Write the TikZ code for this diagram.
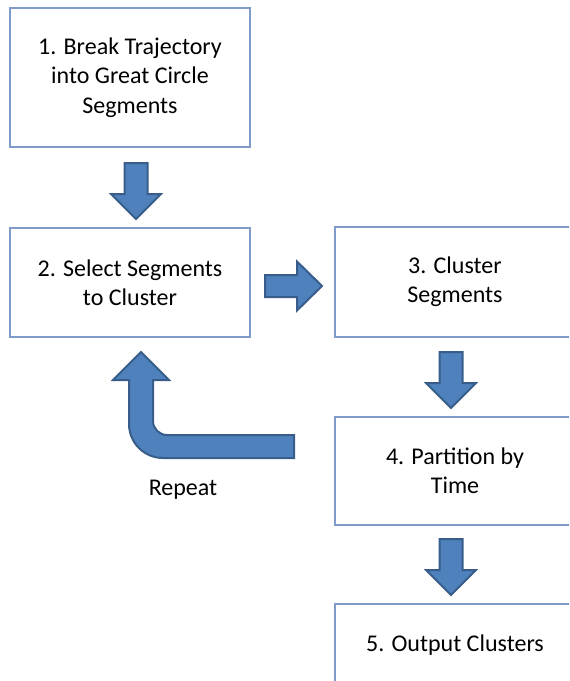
\documentclass[tikz,border=0pt]{standalone}
\usepackage{fontspec}
\setmainfont{Carlito}
\usetikzlibrary{calc}
\definecolor{boxline}{HTML}{7F9BC9}
\definecolor{arrowfill}{HTML}{4F81BD}
\definecolor{arrowline}{HTML}{385D8A}
\tikzset{
  stepbox/.style={draw=boxline, line width=1.1pt, fill=white, rectangle,
    anchor=north west, minimum width=180pt, align=center, inner sep=0pt,
    outer sep=0pt, font=\fontsize{18}{22}\selectfont},
  blockarrow/.style={fill=arrowfill, draw=arrowline, line width=1.5pt, line join=miter},
  % block arrow pointing down, origin at the middle of the shaft top
  downblock/.pic={
    \filldraw[blockarrow] (-11.5,0) -- (11.5,0) -- (11.5,31) -- (25,31)
      -- (0,56) -- (-25,31) -- (-11.5,31) -- cycle;
  },
  % block arrow pointing right, origin at the middle of the shaft tail
  rightblock/.pic={
    \filldraw[blockarrow] (0,-11) -- (32,-11) -- (32,-24.5) -- (57,0)
      -- (32,24.5) -- (32,11) -- (0,11) -- cycle;
  },
}
\begin{document}
\begin{tikzpicture}[x=0.75pt, y=-0.75pt]
\useasboundingbox (0,0) rectangle (569,681);
\clip (0,0) rectangle (569,681);

% process boxes
\node[stepbox, minimum height=104.25pt] (b1) at (10,8)
  {1. Break Trajectory\\into Great Circle\\Segments};
\node[stepbox, minimum height=81.75pt] (b2) at (10,228)
  {2. Select Segments\\to Cluster};
\node[stepbox, minimum height=82.5pt] (b3) at (335,227)
  {3. Cluster\\Segments};
\node[stepbox, minimum height=81pt] (b4) at (335,417)
  {4. Partition by\\Time};
\node[stepbox, minimum height=61.5pt] (b5) at (335,604)
  {5. Output Clusters};

% block arrows between the steps
\coordinate (a12) at ($(b1.south)+(6,16)$);
\coordinate (a23) at ($(b2.east)+(15,3.5)$);
\coordinate (a34) at ($(b3.south)+(-4,15)$);
\coordinate (a45) at ($(b4.south)+(-4,14)$);
\pic at (a12) {downblock};
\pic at (a23) {rightblock};
\pic at (a34) {downblock};
\pic at (a45) {downblock};

% bent arrow looping back to step 2
\coordinate (rtail) at ($(b4.north west)+(-41,18)$);
\filldraw[blockarrow] (rtail) -- (167,435)
  .. controls (159.3,435) and (153,428.7) .. (153,421)
  -- (153,380) -- (169,380) -- (141,352) -- (113,380) -- (129,380)
  -- (129,424)
  .. controls (129,442.8) and (144.2,458) .. (163,458)
  -- (294,458) -- cycle;

\node[font=\fontsize{18}{22}\selectfont] (rep) at (183,490) {Repeat};
\end{tikzpicture}
\end{document}
